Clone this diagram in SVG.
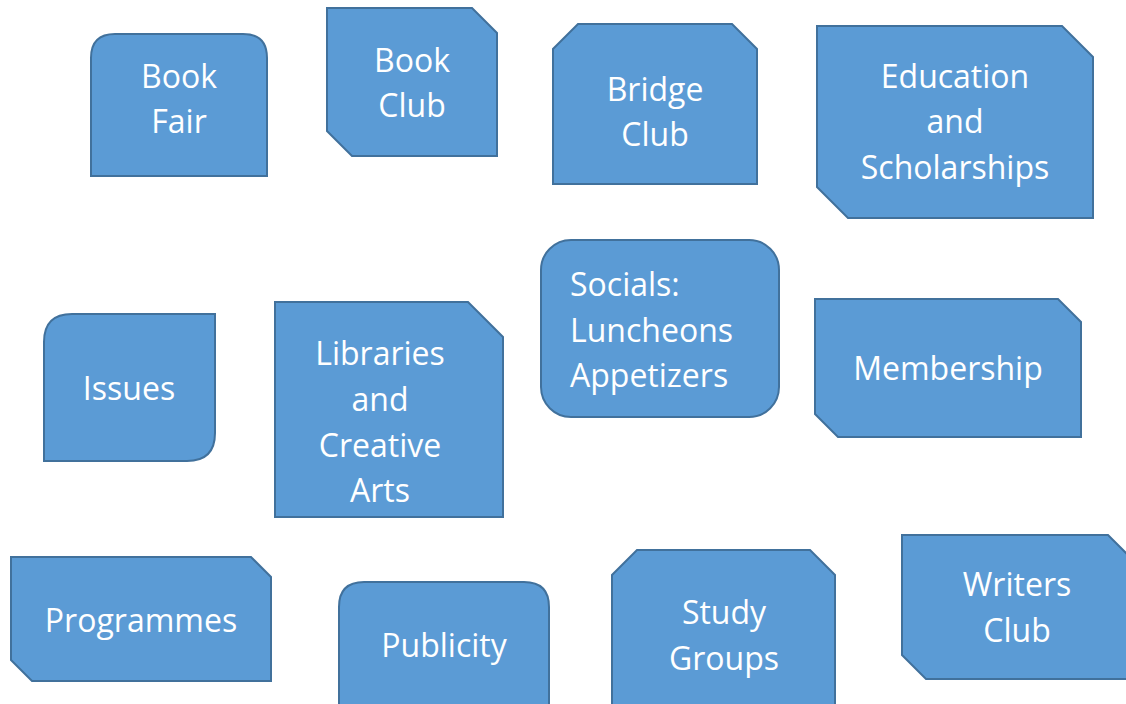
<svg xmlns="http://www.w3.org/2000/svg" width="1126" height="704" viewBox="0 0 1126 704">
<style>
.s{fill:#5B9BD5;stroke:#41719C;stroke-width:2}
.t{fill:#FFFFFF;font-family:"Open Sans","Liberation Sans",sans-serif;font-size:32px;text-anchor:middle}
.l{text-anchor:start}
</style>
<rect width="1126" height="704" fill="#FFFFFF"/>
<g id="connectors"></g>
<g id="book-fair">
<path class="s" d="M91,176 V58 Q91,34 115,34 H243 Q267,34 267,58 V176 Z"/>
<text class="t" x="179" y="88">Book</text><text class="t" x="179" y="133">Fair</text>
</g>
<g id="book-club">
<path class="s" d="M327,8 H472 L497,33 V156 H352 L327,131 Z"/>
<text class="t" x="412" y="72">Book</text><text class="t" x="412" y="117">Club</text>
</g>
<g id="bridge-club">
<path class="s" d="M578,24 H732 L757,49 V184 H553 V49 Z"/>
<text class="t" x="655" y="101">Bridge</text><text class="t" x="655" y="146">Club</text>
</g>
<g id="education">
<path class="s" d="M817,26 H1062 L1093,57 V218 H848 L817,187 Z"/>
<text class="t" x="955" y="88">Education</text><text class="t" x="955" y="133">and</text><text class="t" x="955" y="179">Scholarships</text>
</g>
<g id="issues">
<path class="s" d="M44,461 V342 Q44,314 72,314 H215 V433 Q215,461 187,461 Z"/>
<text class="t" x="129" y="400">Issues</text>
</g>
<g id="libraries">
<path class="s" d="M275,302 H468 L503,337 V517 H275 Z"/>
<text class="t" x="380" y="365">Libraries</text><text class="t" x="380" y="411">and</text><text class="t" x="380" y="457">Creative</text><text class="t" x="380" y="502">Arts</text>
</g>
<g id="socials">
<rect class="s" x="541" y="240" width="238" height="177" rx="30" ry="30"/>
<text class="t l" x="570" y="296">Socials:</text><text class="t l" x="570" y="342">Luncheons</text><text class="t l" x="570" y="387">Appetizers</text>
</g>
<g id="membership">
<path class="s" d="M815,299 H1058 L1081,322 V437 H838 L815,414 Z"/>
<text class="t" x="948" y="380">Membership</text>
</g>
<g id="programmes">
<path class="s" d="M11,557 H251 L271,577 V681 H32 L11,660 Z"/>
<text class="t" x="141" y="632">Programmes</text>
</g>
<g id="publicity">
<path class="s" d="M339,710 V607 Q339,582 364,582 H524 Q549,582 549,607 V710 Z"/>
<text class="t" x="444" y="657">Publicity</text>
</g>
<g id="study-groups">
<path class="s" d="M612,710 V575 L637,550 H810 L835,575 V710 Z"/>
<text class="t" x="724" y="624">Study</text><text class="t" x="724" y="670">Groups</text>
</g>
<g id="writers-club">
<path class="s" d="M902,535 H1108 L1132,559 V679 H926 L902,655 Z"/>
<text class="t" x="1017" y="596">Writers</text><text class="t" x="1017" y="642">Club</text>
</g>
</svg>
